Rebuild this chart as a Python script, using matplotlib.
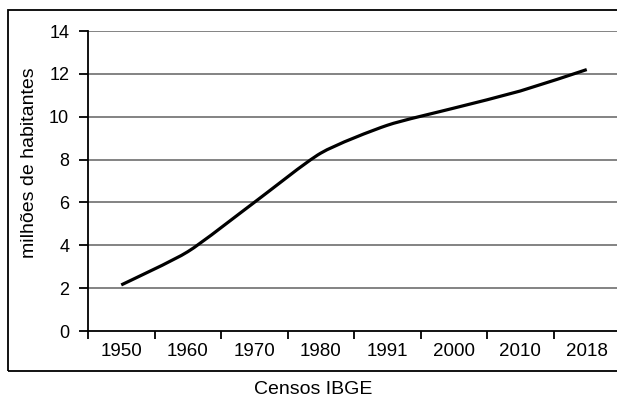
import matplotlib
matplotlib.use("Agg")
import matplotlib.pyplot as plt
from matplotlib.patches import Rectangle, PathPatch
from matplotlib.path import Path
from matplotlib.ticker import FixedLocator
import numpy as np

plt.rcParams['font.family'] = ['Liberation Sans', 'DejaVu Sans']

categories = ["1950", "1960", "1970", "1980", "1991", "2000", "2010", "2018"]
population = [2.15, 3.7, 6.0, 8.3, 9.6, 10.4, 11.2, 12.2]
yticks = [0, 2, 4, 6, 8, 10, 12, 14]

W, H = 617, 407
fig = plt.figure(figsize=(W / 100, H / 100), dpi=100)

left, right, bottom, top = 88, 620, 331, 31
ax = fig.add_axes([left / W, 1 - bottom / H, (right - left) / W, (bottom - top) / H])

x = np.arange(len(categories), dtype=float)
y = np.array(population, dtype=float)

# smoothed line (Bezier through data points, like a spreadsheet "smoothed line")
tension = 1.0 / 9.0
pts = np.column_stack([x, y])
ext = np.vstack([pts[0], pts, pts[-1]])
verts = [tuple(pts[0])]
codes = [Path.MOVETO]
for i in range(len(pts) - 1):
    p0, p1, p2, p3 = ext[i], ext[i + 1], ext[i + 2], ext[i + 3]
    c1 = p1 + (p2 - p0) * tension
    c2 = p2 - (p3 - p1) * tension
    verts += [tuple(c1), tuple(c2), tuple(p2)]
    codes += [Path.CURVE4, Path.CURVE4, Path.CURVE4]
patch = PathPatch(Path(verts, codes), facecolor='none', edgecolor='black', lw=2.3,
                  capstyle='butt', joinstyle='round', zorder=3)
ax.add_patch(patch)

ax.set_xlim(-0.5, len(categories) - 0.5)
ax.set_ylim(0, 14)
ax.set_yticks(yticks)
ax.set_yticklabels([str(v) for v in yticks])
ax.set_xticks(x)
ax.set_xticklabels(categories)
ax.xaxis.set_minor_locator(FixedLocator([i - 0.5 for i in range(len(categories) + 1)]))

for yv in yticks[1:]:
    ax.axhline(yv, color='#7a7a7a', lw=1.3, zorder=1)

ax.tick_params(axis='y', which='major', length=6.5, width=1.3, direction='out', pad=7, labelsize=13, color='black')
ax.tick_params(axis='x', which='major', length=0, pad=9, labelsize=13.5)
ax.tick_params(axis='x', which='minor', length=6, width=1.3, direction='out', color='black')

for s in ['top', 'right']:
    ax.spines[s].set_visible(False)
for s in ['left', 'bottom']:
    ax.spines[s].set_linewidth(1.3)
    ax.spines[s].set_color('black')

# outer frame
frame = Rectangle((8 / W, 1 - 371 / H), (640 - 8) / W, (371 - 10) / H,
                  transform=fig.transFigure, fill=False, edgecolor='black', lw=1.3, clip_on=False)
fig.patches.append(frame)

fig.text(30 / W, 1 - 163 / H, "milhões de habitantes", rotation=90, ha='center', va='center', fontsize=14)
fig.text(313 / W, 1 - 389 / H, "Censos IBGE", ha='center', va='center', fontsize=14)

fig.savefig("out.png", dpi=100)
